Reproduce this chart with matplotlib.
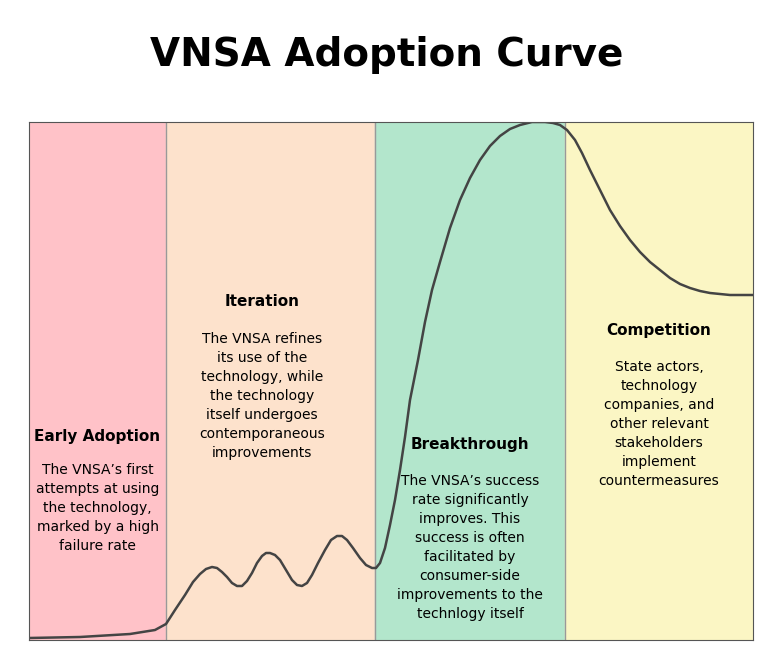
import matplotlib.pyplot as plt
import numpy as np

# curve points (pixel coordinates of reference)
curve_px = [29,80,130,155,166,175,185,193,200,206,212,217,222,227,232,237,242,247,252,257,262,266,270,275,280,286,292,297,302,307,312,318,325,331,337,342,347,353,360,366,372,376,380,385,390,395,400,405,410,418,425,432,440,450,460,470,480,490,500,510,520,532,545,553,560,567,575,582,590,600,610,620,630,640,650,660,670,680,690,700,710,720,730,742,753]
curve_py = [638,637,634,630,624,610,595,582,574,569,567,568,572,577,583,586,586,581,573,563,556,553,553,555,560,570,580,585,586,583,575,563,550,540,536,536,540,548,558,565,568,568,563,548,525,500,470,437,400,360,322,290,262,228,200,178,160,146,136,129,125,122,122,123,125,130,140,153,170,190,210,226,240,252,262,270,278,284,288,291,293,294,295,295,295]

regions = ["Early Adoption", "Iteration", "Breakthrough", "Competition"]
region_edges_px = [29, 166, 375, 565, 753]
region_colors = ["#ffc2c8", "#fde2cc", "#b3e6cc", "#fbf6c4"]
region_texts = [
    "The VNSA\u2019s first\nattempts at using\nthe technology,\nmarked by a high\nfailure rate",
    "The VNSA refines\nits use of the\ntechnology, while\nthe technology\nitself undergoes\ncontemporaneous\nimprovements",
    "The VNSA\u2019s success\nrate significantly\nimproves. This\nsuccess is often\nfacilitated by\nconsumer-side\nimprovements to the\ntechnlogy itself",
    "State actors,\ntechnology\ncompanies, and\nother relevant\nstakeholders\nimplement\ncountermeasures",
]
title_py = [436, 302, 445, 331]
body_py = [463, 332, 474, 360]

fig = plt.figure(figsize=(7.73, 6.61), dpi=100)
ax = fig.add_axes([29/773, 1-640/661, 724/773, 518/661])
ax.set_xlim(29, 753)
ax.set_ylim(640, 122)
for i in range(4):
    ax.axvspan(region_edges_px[i], region_edges_px[i+1], color=region_colors[i], zorder=0)
    if 0 < i:
        ax.axvline(region_edges_px[i], color="#999999", lw=1, zorder=1)
    cx = (region_edges_px[i] + region_edges_px[i+1]) / 2
    if i == 1:
        cx = 262
    ax.text(cx, title_py[i], regions[i], ha="center", va="center", fontsize=11, fontweight="bold", zorder=3)
    ax.text(cx, body_py[i], region_texts[i], ha="center", va="top", fontsize=10, linespacing=1.45, zorder=3)
ax.plot(curve_px, curve_py, color="#444444", lw=1.8, zorder=2, solid_joinstyle="round")
ax.set_xticks([]); ax.set_yticks([])
for s in ax.spines.values():
    s.set_color("#555555")
fig.text(0.5, 1-55/661, "VNSA Adoption Curve", ha="center", va="center", fontsize=28, fontweight="bold")
fig.savefig("out.png", dpi=100)
